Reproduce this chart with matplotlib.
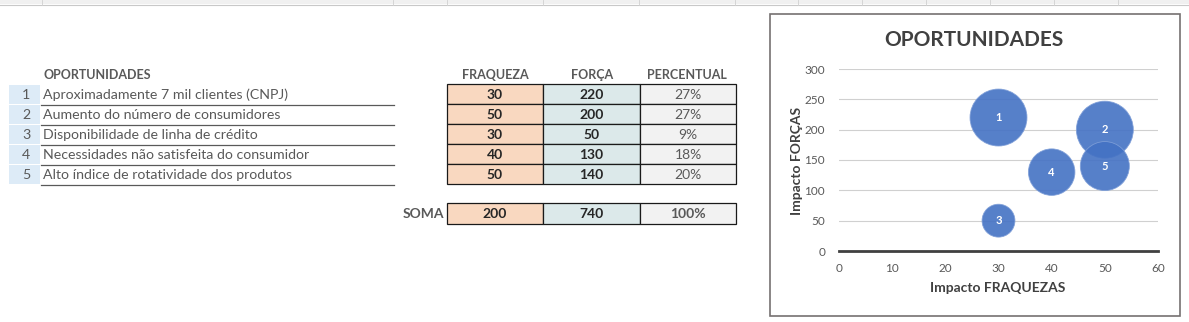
import matplotlib
matplotlib.use("Agg")
import matplotlib.pyplot as plt
from matplotlib.patches import Rectangle

plt.rcParams['font.family'] = ['Lato', 'DejaVu Sans']

# ---- data ----
ids = [1, 2, 3, 4, 5]
oportunidades = [
    "Aproximadamente 7 mil clientes (CNPJ)",
    "Aumento do número de consumidores",
    "Disponibilidade de linha de crédito",
    "Necessidades não satisfeita do consumidor",
    "Alto índice de rotatividade dos produtos",
]
fraqueza = [30, 50, 30, 40, 50]
forca = [220, 200, 50, 130, 140]
percentual = [27, 27, 9, 18, 20]
col_headers = ["FRAQUEZA", "FORÇA", "PERCENTUAL"]
xticks = [0, 10, 20, 30, 40, 50, 60]
yticks = [0, 50, 100, 150, 200, 250, 300]

W, H = 1189, 322
fig = plt.figure(figsize=(W / 100, H / 100), dpi=100)
bg = fig.add_axes([0, 0, 1, 1])
bg.set_xlim(0, W)
bg.set_ylim(H, 0)
bg.axis('off')

TXT = '#595959'
NUM = '#262626'

# excel column header strip
bg.add_patch(Rectangle((0, 0), W, 4, facecolor='#f0f0f0', edgecolor='none'))
bg.plot([0, W], [4.5, 4.5], color='#c8c8c8', lw=0.8)
for sx in [42, 393, 447, 543, 639, 735, 798, 862, 926, 990, 1054, 1118]:
    bg.plot([sx, sx], [0, 4.5], color='#d0d0d0', lw=0.6)

# left table
row_top = 85
row_h = 20
bg.text(44, 75, "OPORTUNIDADES", fontsize=9, fontweight='bold', color=TXT,
        va='center', ha='left')
for i, (n, t) in enumerate(zip(ids, oportunidades)):
    y0 = row_top + i * row_h
    bg.add_patch(Rectangle((9, y0), 31, row_h - 1, facecolor='#DDEBF7', edgecolor='none'))
    bg.text(26, y0 + 10, str(n), fontsize=10.2, color=TXT, ha='center', va='center')
    bg.text(43, y0 + 10, t, fontsize=10.2, color=TXT, ha='left', va='center')
    bg.plot([41, 394], [y0 + row_h - 0.5, y0 + row_h - 0.5], color='#595959', lw=0.9)

# numeric table
col_x = [447, 543, 640, 736]
col_fc = ['#F9D8C0', '#DCE9EA', '#F2F2F2']
hdr_cx = [495, 592, 687]
for cx, h in zip(hdr_cx, col_headers):
    bg.text(cx, 75, h, fontsize=9, fontweight='bold', color=TXT, ha='center', va='center')

for i in range(len(ids)):
    y0 = 84 + i * row_h
    vals = [str(fraqueza[i]), str(forca[i]), f"{percentual[i]}%"]
    for j in range(3):
        bg.add_patch(Rectangle((col_x[j], y0), col_x[j + 1] - col_x[j], row_h,
                               facecolor=col_fc[j], edgecolor='#1a1a1a', lw=0.9))
        bg.text((col_x[j] + col_x[j + 1]) / 2, y0 + 10.5, vals[j], fontsize=10,
                fontweight='bold' if j < 2 else 'normal',
                color=NUM if j < 2 else TXT, ha='center', va='center')

soma = [str(sum(fraqueza)), str(sum(forca)), "100%"]
sy = 203
for j in range(3):
    bg.add_patch(Rectangle((col_x[j], sy), col_x[j + 1] - col_x[j], 21,
                           facecolor=col_fc[j], edgecolor='#1a1a1a', lw=0.9))
    bg.text((col_x[j] + col_x[j + 1]) / 2, sy + 11, soma[j], fontsize=10,
            fontweight='bold', color=NUM if j < 2 else TXT, ha='center', va='center')
bg.text(444, sy + 11, "SOMA", fontsize=10, fontweight='bold', color=TXT,
        ha='right', va='center')

# chart frame
bg.add_patch(Rectangle((770, 14), 410, 302, facecolor='white', edgecolor='#767171', lw=1.2))
bg.text(974, 40, "OPORTUNIDADES", fontsize=15, fontweight='bold', color='#404040',
        ha='center', va='center')
bg.text(998, 288, "Impacto FRAQUEZAS", fontsize=10, fontweight='bold', color='#404040',
        ha='center', va='center')
bg.text(797, 161, "Impacto FORÇAS", fontsize=10, fontweight='bold', color='#404040',
        ha='center', va='center', rotation=90)

# bubble chart
px0, px1, py0, py1 = 839, 1158, 69, 251
ax = fig.add_axes([px0 / W, 1 - py1 / H, (px1 - px0) / W, (py1 - py0) / H])
ax.set_facecolor('none')
ax.set_xlim(0, 60)
ax.set_ylim(0, 300)
ax.set_xticks(xticks)
ax.set_yticks(yticks)
ax.tick_params(length=0, labelsize=8.5, labelcolor=TXT)
ax.tick_params(axis='x', pad=9)
ax.tick_params(axis='y', pad=10)
for s in ['top', 'right', 'left']:
    ax.spines[s].set_visible(False)
ax.spines['bottom'].set_color('#404040')
ax.spines['bottom'].set_linewidth(2)
for yv in yticks[1:]:
    ax.axhline(yv, color='#d0d0d0', lw=0.8, zorder=0)

scale = 1681 / 27
ax.scatter(fraqueza, forca, s=[p * scale for p in percentual], color='#4472C4',
           alpha=0.9, edgecolors='#7f9fd8', linewidths=0.6, zorder=3, clip_on=False)
for n, x, y in zip(ids, fraqueza, forca):
    ax.text(x, y, str(n), color='white', fontsize=8, fontweight='bold',
            ha='center', va='center', zorder=4)

fig.savefig("out.png", dpi=100)
